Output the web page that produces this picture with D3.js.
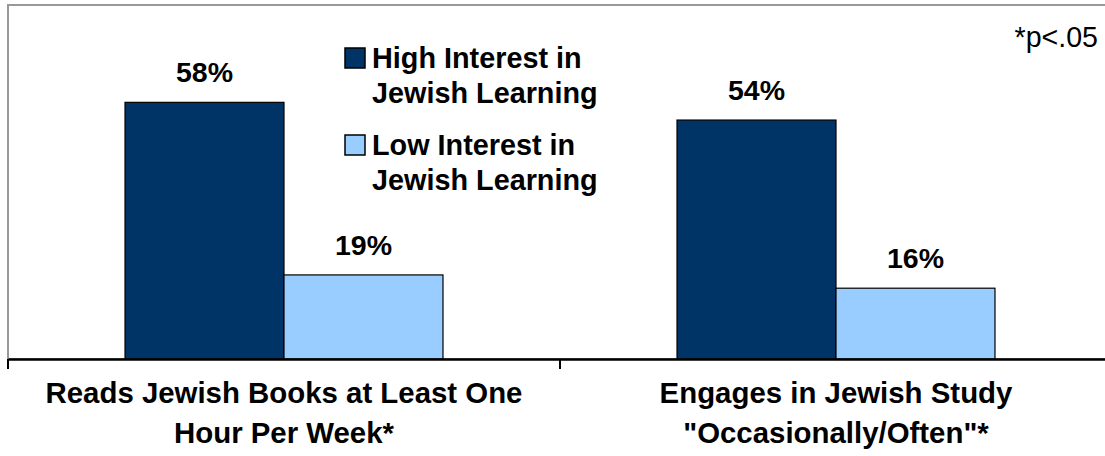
<!DOCTYPE html>
<html>
<head>
<meta charset="utf-8">
<script src="https://cdn.jsdelivr.net/npm/d3@7"></script>
<style>
  html, body { margin: 0; padding: 0; background: #fff; }
  svg { display: block; font-family: "Liberation Sans", Arial, sans-serif; }
</style>
</head>
<body>
<svg id="chart" width="1105" height="456"></svg>
<script>
// Survey measures (two lines per category label)
const categories = [
  ["Reads Jewish Books at Least One", "Hour Per Week*"],
  ["Engages in Jewish Study", "\"Occasionally/Often\"*"]
];
const seriesNames = [
  ["High Interest in", "Jewish Learning"],
  ["Low Interest in", "Jewish Learning"]
];
const highInterest = [58, 54];
const lowInterest = [19, 16];
const seriesColors = ["#003366", "#99CCFF"];
const note = "*p<.05";

const svg = d3.select("#chart");

const plot = { left: 8, right: 1112, top: 5, bottom: 359 };

const x0 = d3.scaleBand()
  .domain(d3.range(categories.length))
  .range([plot.left, plot.right])
  .paddingInner(0)
  .paddingOuter(0);

const x1 = d3.scaleBand()
  .domain(d3.range(2))
  .range([0, x0.bandwidth()])
  .paddingInner(0)
  .paddingOuter(0.736);

const y = d3.scaleLinear().domain([0, 80]).range([plot.bottom, plot.top]);

// Plot area frame
svg.append("rect")
  .attr("x", plot.left)
  .attr("y", plot.top)
  .attr("width", plot.right - plot.left)
  .attr("height", plot.bottom - plot.top)
  .attr("fill", "none")
  .attr("stroke", "#999")
  .attr("stroke-width", 2);

const rows = categories.map((c, i) => [
  { s: 0, v: highInterest[i] },
  { s: 1, v: lowInterest[i] }
]);

const groups = svg.selectAll("g.cat")
  .data(rows)
  .join("g")
  .attr("class", "cat")
  .attr("transform", (d, i) => `translate(${x0(i)},0)`);

groups.selectAll("rect")
  .data(d => d)
  .join("rect")
  .attr("x", d => x1(d.s))
  .attr("y", d => y(d.v))
  .attr("width", x1.bandwidth())
  .attr("height", d => y(0) - y(d.v))
  .attr("fill", d => seriesColors[d.s])
  .attr("stroke", "#000")
  .attr("stroke-width", 1.2);

groups.selectAll("text.val")
  .data(d => d)
  .join("text")
  .attr("class", "val")
  .attr("x", d => x1(d.s) + x1.bandwidth() / 2)
  .attr("y", d => y(d.v) - 20)
  .attr("text-anchor", "middle")
  .attr("font-size", 28.5)
  .attr("font-weight", "bold")
  .text(d => d.v + "%");

// Category axis
const axis = d3.axisBottom(x0)
  .tickSizeOuter(0)
  .tickSizeInner(0)
  .tickFormat("");
const axisG = svg.append("g")
  .attr("transform", `translate(0,${plot.bottom})`)
  .call(axis);
axisG.select(".domain").attr("stroke", "#000").attr("stroke-width", 2.5);

// Tick marks at category boundaries
svg.selectAll("line.tick-b")
  .data(d3.range(categories.length))
  .join("line")
  .attr("class", "tick-b")
  .attr("x1", i => x0(i))
  .attr("x2", i => x0(i))
  .attr("y1", plot.bottom)
  .attr("y2", plot.bottom + 10)
  .attr("stroke", "#000")
  .attr("stroke-width", 2);

// Category labels
const catLabels = svg.selectAll("text.cat-label")
  .data(categories)
  .join("text")
  .attr("class", "cat-label")
  .attr("text-anchor", "middle")
  .attr("font-size", 29.4)
  .attr("font-weight", "bold");
catLabels.each(function(lines, i) {
  d3.select(this).selectAll("tspan")
    .data(lines)
    .join("tspan")
    .attr("x", x0(i) + x0.bandwidth() / 2)
    .attr("y", (d, j) => 403 + j * 40)
    .text(d => d);
});

// Legend
const legend = svg.append("g").attr("transform", "translate(345,48)");
const entries = legend.selectAll("g")
  .data(seriesNames)
  .join("g")
  .attr("transform", (d, i) => `translate(0,${i * 87})`);
entries.append("rect")
  .attr("width", 20)
  .attr("height", 20)
  .attr("fill", (d, i) => seriesColors[i])
  .attr("stroke", "#000")
  .attr("stroke-width", 1.5);
entries.append("text")
  .attr("font-size", 28.8)
  .attr("font-weight", "bold")
  .each(function(lines) {
    d3.select(this).selectAll("tspan")
      .data(lines)
      .join("tspan")
      .attr("x", 27)
      .attr("y", (d, j) => 20 + j * 35)
      .text(d => d);
  });

// Significance note
svg.append("text")
  .attr("x", 1098)
  .attr("y", 47)
  .attr("text-anchor", "end")
  .attr("font-size", 28.6)
  .text(note);
</script>
</body>
</html>
